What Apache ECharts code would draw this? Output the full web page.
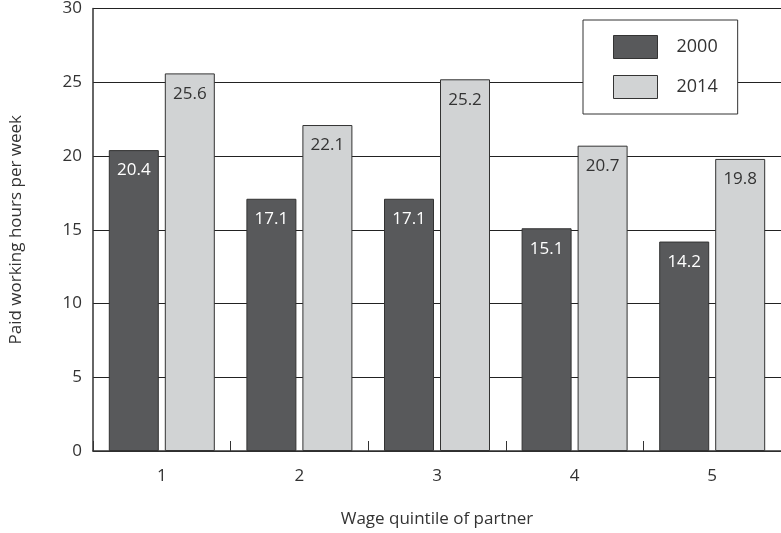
<!DOCTYPE html>
<html><head><meta charset="utf-8">
<script src="https://cdn.jsdelivr.net/npm/echarts@6/dist/echarts.min.js"></script>
<style>html,body{margin:0;padding:0;background:#fff}#c{width:781px;height:533px}</style>
</head><body><div id="c"></div>
<script>
const categories = ['1','2','3','4','5'];
const series2000 = [20.4, 17.1, 17.1, 15.1, 14.2];
const series2014 = [25.6, 22.1, 25.2, 20.7, 19.8];
const FONT = '"Open Sans", sans-serif';
const chart = echarts.init(document.getElementById('c'));
chart.setOption({
  animation: false,
  textStyle: {fontFamily: FONT},
  grid: {left: 93, right: -6, top: 7, bottom: 81},
  legend: {
    orient: 'vertical', left: 583, top: 20, width: 169,
    padding: [15, 20, 15, 30],
    backgroundColor: '#fff', borderColor: '#333', borderWidth: 1,
    icon: 'rect',
    itemWidth: 44, itemHeight: 23, itemGap: 16,
    itemStyle: {borderColor: '#333', borderWidth: 1},
    textStyle: {fontFamily: FONT, fontSize: 18, color: '#333', padding: [0, 0, 0, 14]},
    data: ['2000', '2014']
  },
  xAxis: {
    type: 'category', data: categories,
    name: 'Wage quintile of partner', nameLocation: 'middle', nameGap: 60,
    nameTextStyle: {fontFamily: FONT, fontSize: 17, color: '#333'},
    axisLine: {lineStyle: {color: '#333', width: 1.5}},
    axisTick: {show: true, inside: true, length: 10, lineStyle: {color: '#333'}},
    axisLabel: {fontFamily: FONT, fontSize: 17, color: '#333', margin: 17}
  },
  yAxis: {
    type: 'value', min: 0, max: 30, interval: 5,
    name: 'Paid working hours per week', nameLocation: 'middle', nameGap: 68,
    nameTextStyle: {fontFamily: FONT, fontSize: 17, color: '#333'},
    axisLine: {show: true, lineStyle: {color: '#333', width: 1.5}},
    axisTick: {show: false},
    axisLabel: {fontFamily: FONT, fontSize: 17, color: '#333', margin: 11},
    splitLine: {lineStyle: {color: '#222', width: 1}}
  },
  series: [
    {name: '2000', type: 'bar', data: series2000, barWidth: 50, barGap: '12%',
     itemStyle: {color: '#58595b', borderColor: '#333', borderWidth: 1},
     label: {show: true, position: 'insideTop', distance: 12, color: '#fff', fontSize: 17, fontFamily: FONT, formatter: p => p.value.toFixed(1)}},
    {name: '2014', type: 'bar', data: series2014, barWidth: 50,
     itemStyle: {color: '#d1d3d4', borderColor: '#333', borderWidth: 1},
     label: {show: true, position: 'insideTop', distance: 12, color: '#333', fontSize: 17, fontFamily: FONT, formatter: p => p.value.toFixed(1)}}
  ]
});
</script></body></html>
